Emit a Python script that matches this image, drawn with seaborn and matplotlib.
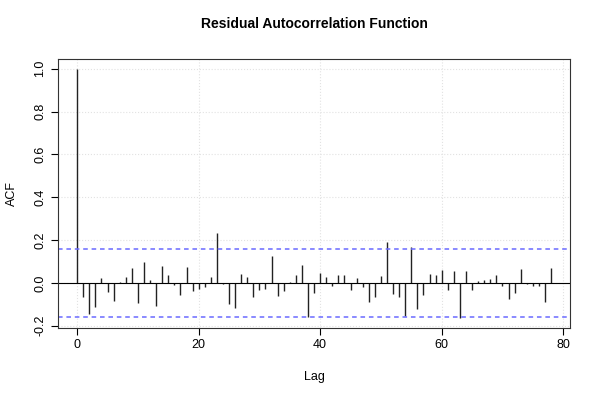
import numpy as np
import matplotlib
matplotlib.use("Agg")
import matplotlib.pyplot as plt
import seaborn as sns

# ACF values, lags 0..78
lags = list(range(79))
acf = [1.000, -0.065, -0.146, -0.114, 0.023, -0.044, -0.086, 0.003, 0.030, 0.070,
       -0.092, 0.098, 0.016, -0.109, 0.079, 0.039, -0.008, -0.058, 0.073, -0.036,
       -0.026, -0.019, 0.030, 0.234, -0.003, -0.097, -0.115, 0.042, 0.028, -0.064,
       -0.031, -0.028, 0.126, -0.061, -0.036, 0.005, 0.036, 0.086, -0.157, -0.048,
       0.048, 0.028, -0.014, 0.039, 0.037, -0.031, 0.022, -0.019, -0.087, -0.067,
       0.031, 0.192, -0.053, -0.064, -0.154, 0.168, -0.123, -0.055, 0.040, 0.037,
       0.059, -0.031, 0.056, -0.162, 0.056, -0.031, 0.008, 0.016, 0.017, 0.036,
       -0.016, -0.073, -0.045, 0.065, -0.003, -0.016, -0.016, -0.087, 0.068]
conf = 0.157
xticks = [0, 20, 40, 60, 80]
yticks = [-0.2, 0.0, 0.2, 0.4, 0.6, 0.8, 1.0]

sns.set_style("white")
plt.rcParams['font.family'] = ['Liberation Sans', 'DejaVu Sans']
plt.rcParams['text.color'] = 'black'
plt.rcParams['axes.labelcolor'] = 'black'
plt.rcParams['xtick.color'] = 'black'
plt.rcParams['ytick.color'] = 'black'

fig = plt.figure(figsize=(6, 4), dpi=100)
ax = fig.add_axes([0.097, 0.181, 0.853, 0.672])

ax.vlines(lags, 0, acf, color="#222222", linewidth=1)
ax.axhline(0, color="black", linewidth=0.8)
ax.axhline(conf, color="#6a6aff", linestyle=(0, (3, 2.5)), linewidth=1.1)
ax.axhline(-conf, color="#6a6aff", linestyle=(0, (3, 2.5)), linewidth=1.1)

ax.set_xlim(-3.12, 81.12)
ax.set_ylim(-0.2085, 1.0465)
ax.set_xticks(xticks)
ax.set_yticks(yticks)
ax.set_yticklabels([f"{v:.1f}" for v in yticks], rotation=90, va="center")
ax.grid(True, color="#e2e2e2", linestyle=":", linewidth=0.8)
ax.set_axisbelow(True)
ax.tick_params(direction="out", length=5, labelsize=9, left=True, bottom=True)
for s in ax.spines.values():
    s.set_color("#333333")
    s.set_linewidth(0.8)

ax.set_title("Residual Autocorrelation Function", fontsize=10, fontweight="bold", pad=22)
ax.set_xlabel("Lag", fontsize=9, labelpad=14)
ax.set_ylabel("ACF", fontsize=9, labelpad=12)

fig.savefig("out.png", dpi=100)
